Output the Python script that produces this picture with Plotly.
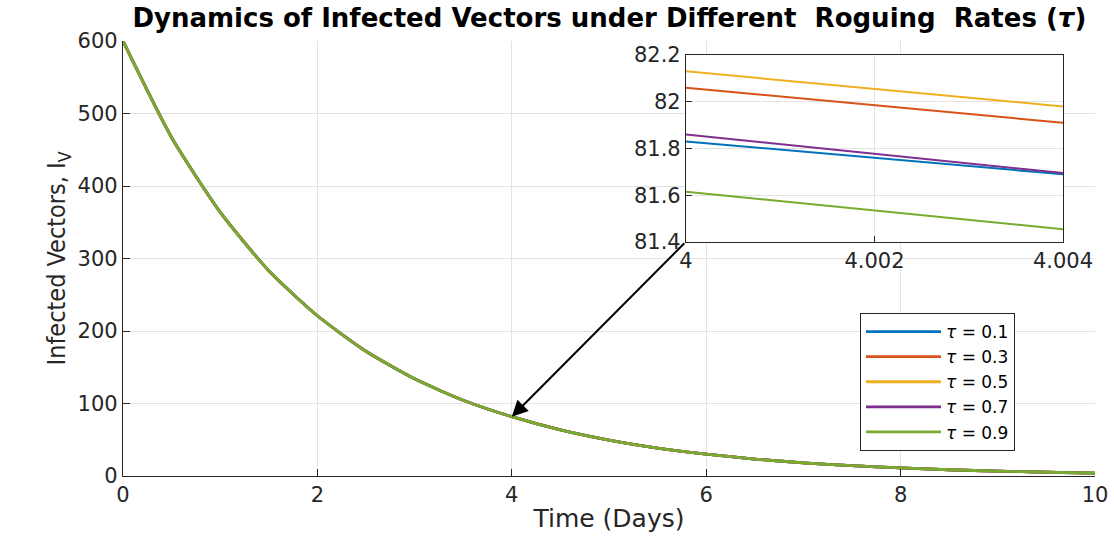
import plotly.graph_objects as go

# ---- data ----
taus = ["0.1", "0.3", "0.5", "0.7", "0.9"]
colors = ["#0072BD", "#D95319", "#EDB120", "#7E2F8E", "#77AC30"]

time_days = [0, 0.5, 1, 1.5, 2, 2.5, 3, 3.5, 4, 4.5, 5, 5.5, 6, 6.5, 7, 7.5, 8, 8.5, 9, 9.5, 10]
infected_vectors = [600, 467, 364, 283, 221, 172, 134, 104.5, 81.8, 63.7, 49.6, 38.6, 30.1,
                    23.4, 18.2, 14.2, 11.1, 8.6, 6.7, 5.2, 4.1]

inset_time = [4.0, 4.004]
inset_iv = {
    "0.1": [81.83, 81.69],
    "0.3": [82.06, 81.91],
    "0.5": [82.13, 81.98],
    "0.7": [81.86, 81.695],
    "0.9": [81.615, 81.455],
}

main_xticks = [0, 2, 4, 6, 8, 10]
main_yticks = [0, 100, 200, 300, 400, 500, 600]
inset_xticks = [4, 4.002, 4.004]
inset_yticks = [81.4, 81.6, 81.8, 82.0, 82.2]

W, H = 1114, 540
ML, MR, MT, MB = 123, 19, 41, 64

fig = go.Figure()
for tau, c in zip(taus, colors):
    fig.add_trace(go.Scatter(
        x=time_days, y=infected_vectors, mode="lines",
        line=dict(color=c, width=2.8, shape="spline", smoothing=0.6),
        name=f"<i>τ</i> = {tau}", xaxis="x", yaxis="y"))
for tau, c in zip(taus, colors):
    fig.add_trace(go.Scatter(
        x=inset_time, y=inset_iv[tau], mode="lines",
        line=dict(color=c, width=2), showlegend=False,
        xaxis="x2", yaxis="y2"))

axcol = "#262626"
gridcol = "#e3e3e3"
tickfont = dict(family="DejaVu Sans, Arial", size=21, color=axcol)

pw = W - ML - MR
ph = H - MT - MB
x2d = [(686 - ML) / pw, (1063 - ML) / pw]
y2d = [(H - MB - 242) / ph, (H - MB - 55) / ph]

common = dict(showgrid=True, gridcolor=gridcol, showline=True, linecolor=axcol, linewidth=1.2,
              ticks="inside", tickcolor=axcol, tickfont=tickfont, zeroline=False, automargin=False)

fig.update_layout(
    width=W, height=H,
    margin=dict(l=ML, r=MR, t=MT, b=MB, autoexpand=False),
    paper_bgcolor="white", plot_bgcolor="white",
    title=dict(text="<b>Dynamics of Infected Vectors under Different  Roguing  Rates (<i>τ</i>)</b>",
               x=0.547, xanchor="center", y=0.966, yanchor="middle",
               font=dict(family="DejaVu Sans, Arial", size=26, color="black")),
    xaxis=dict(range=[0, 10], tickvals=main_xticks, ticklen=7,
               title=dict(text="Time (Days)", font=dict(family="DejaVu Sans, Arial", size=25, color=axcol),
                          standoff=3), **common),
    yaxis=dict(range=[0, 600], tickvals=main_yticks, ticklen=7,
               title=dict(text="Infected Vectors, I<sub>V</sub>",
                          font=dict(family="Liberation Sans Narrow, DejaVu Sans Condensed, Arial", size=25, color=axcol),
                          standoff=4), **common),
    xaxis2=dict(domain=x2d, anchor="y2", range=[4, 4.004], tickvals=inset_xticks,
                ticktext=["4", "4.002", "4.004"], mirror=True, ticklen=6, **common),
    yaxis2=dict(domain=y2d, anchor="x2", range=[81.4, 82.2], tickvals=inset_yticks,
                ticktext=["81.4", "81.6", "81.8", "82", "82.2"], mirror=True, ticklen=6, **common),
    legend=dict(x=(860 - ML) / pw, y=(H - MB - 313) / ph, xanchor="left", yanchor="top",
                bgcolor="white", bordercolor=axcol, borderwidth=1,
                font=dict(family="DejaVu Sans, Arial", size=17, color="black"),
                tracegroupgap=0, itemwidth=75),
    showlegend=True,
)

fig.add_annotation(x=4, y=81.8, xref="x", yref="y",
                   ax=5.79, ay=323, axref="x", ayref="y",
                   showarrow=True, arrowhead=2, arrowsize=1.6, arrowwidth=2, arrowcolor="black", text="")

fig.write_html("out.html")
